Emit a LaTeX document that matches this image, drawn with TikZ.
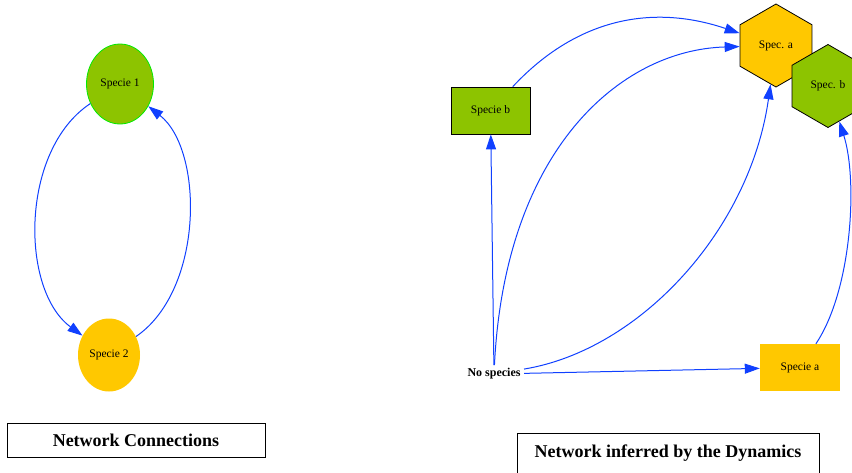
\documentclass[tikz,border=0pt]{standalone}
\usepackage{fontspec}
\setmainfont{Liberation Serif}
\usetikzlibrary{shapes.geometric,arrows.meta}

\definecolor{specgreen}{RGB}{141,196,0}
\definecolor{specyellow}{RGB}{255,200,0}
\definecolor{rimgreen}{RGB}{0,235,0}
\definecolor{edgeblue}{RGB}{16,64,255}

\begin{document}
\begin{tikzpicture}[x=1pt,y=-1pt,
  spec/.style={font=\fontsize{11.5}{13}\selectfont, inner sep=0pt},
  ring/.style={spec, ellipse},
  hexa/.style={spec, regular polygon, regular polygon sides=6, shape border rotate=30,
    minimum size=83pt, draw=black, line width=0.8pt},
  boxed/.style={spec, rectangle, minimum width=79pt, minimum height=47pt},
  caption/.style={draw=black, line width=0.8pt, font=\fontsize{18}{21}\selectfont\bfseries},
  link/.style={edgeblue, line width=1pt, -{Triangle[length=15pt,width=10pt]}}]
  \useasboundingbox (0,0) rectangle (852,472);

  % Left diagram - network connections
  \node[ring, fill=specgreen, draw=rimgreen, line width=0.8pt,
    minimum width=67pt, minimum height=80pt] (sp1) at (120,84) {Specie 1};
  \node[ring, fill=specyellow, minimum width=62pt, minimum height=73pt] (sp2) at (109,355) {Specie 2};

  \draw[link] (sp1) .. controls (20,150) and (20,290) .. (sp2);
  \draw[link] (sp2) .. controls (204,290) and (204,150) .. (sp1);

  \node[caption, minimum width=258pt, minimum height=34pt] (capL) at (136,440) {Network Connections};

  % Right diagram - inferred by the dynamics
  \node[hexa, fill=specyellow] (hexA) at (776,45.5) {Spec. a};
  \node[hexa, fill=specgreen] (hexB) at (828,86) {Spec. b};
  \node[boxed, fill=specgreen, draw=black, line width=0.8pt] (boxB) at (490.5,110.5) {Specie b};
  \node[boxed, fill=specyellow, minimum width=80pt] (boxA) at (800,367.5) {Specie a};
  \node[font=\fontsize{12}{14}\selectfont\bfseries] (none) at (494,374) {No species};

  % Edges
  \draw[link] (none) -- (boxB);
  \draw[link] (boxB) .. controls (575,20) and (650,3) .. (hexA);
  \draw[link] (none) .. controls (505,150) and (620,50) .. (hexA);
  \draw[link] (none) .. controls (640,350) and (750,230) .. (hexA);
  \draw[link] (none) -- (boxA);
  \draw[link] (boxA) .. controls (852,290) and (858,180) .. (hexB);

  \node[caption, minimum width=302pt, minimum height=40pt] (capR) at (668,453) {Network inferred by the Dynamics};
\end{tikzpicture}
\end{document}
